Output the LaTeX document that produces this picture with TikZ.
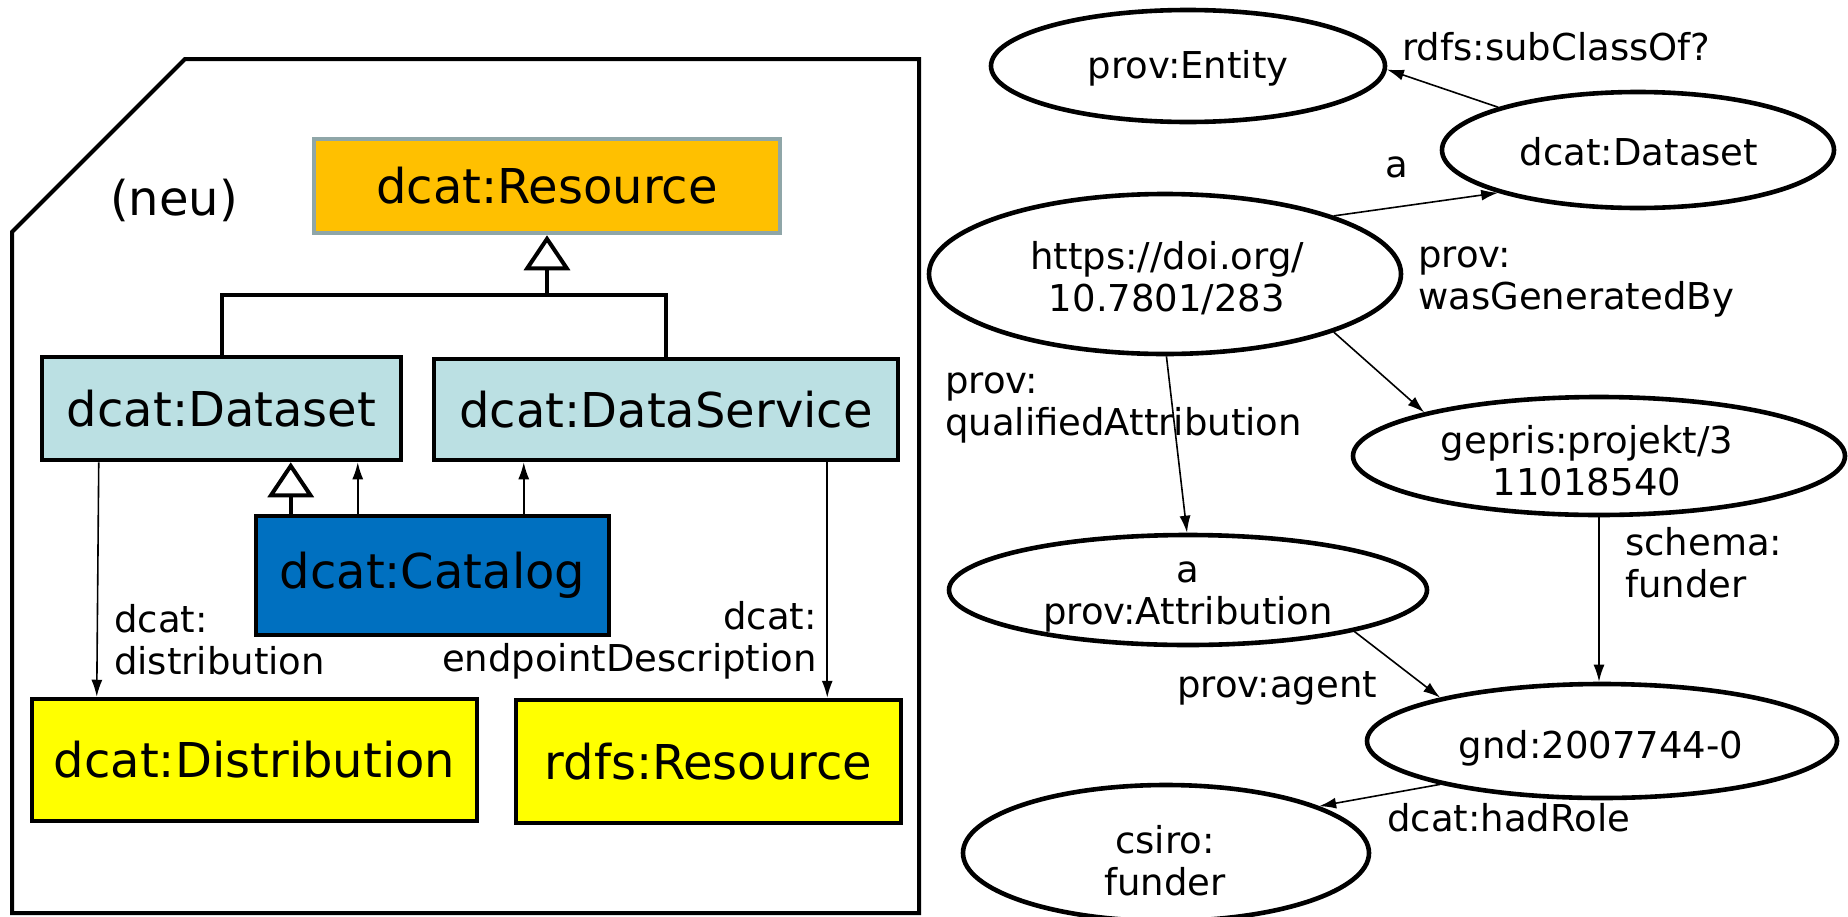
\documentclass[tikz,border=0pt]{standalone}
\usepackage{fontspec}
\setmainfont{DejaVu Sans}
\usetikzlibrary{arrows.meta,shapes.geometric}
\definecolor{resfill}{HTML}{FFC000}
\definecolor{resline}{HTML}{8FA6A8}
\definecolor{lblue}{HTML}{BBE0E3}
\definecolor{catblue}{HTML}{0070C0}
\definecolor{yel}{HTML}{FFFF00}
\begin{document}
\begin{tikzpicture}[x=1pt,y=-1pt,
 box/.style={draw=black,line width=4.5pt,rectangle,inner sep=0pt,font=\fontsize{48}{56}\selectfont},
 ell/.style={draw=black,line width=4.6pt,ellipse,inner sep=0pt},
 txt/.style={inner sep=0pt,font=\fontsize{37}{42}\selectfont,align=center},
 lbl/.style={inner sep=0pt,font=\fontsize{37}{42}\selectfont,align=left,anchor=west},
 rel/.style={line width=1.6pt,-{Latex[length=17pt,width=11pt]}},
 gen/.style={line width=4pt,-{Triangle[open,length=35pt,width=46pt]}},
 tree/.style={line width=4pt}]
\useasboundingbox (0,0) rectangle (1848,916);

% frame
\draw[line width=4pt] (12,232) -- (185,59) -- (919,59) -- (919,913) -- (12,913) -- cycle;
\node[inner sep=0pt,font=\fontsize{48}{56}\selectfont] (neu) at (174,200) {(neu)};

% boxes
\node[box,fill=resfill,draw=resline,minimum width=466pt,minimum height=94pt] (res) at (547,186) {dcat:Resource};
\node[box,fill=lblue,minimum width=359pt,minimum height=103pt] (ds) at (221.5,408.5) {dcat:Dataset};
\node[box,fill=lblue,minimum width=464pt,minimum height=101pt] (dsv) at (666,409.5) {dcat:DataService};
\node[box,fill=catblue,minimum width=353pt,minimum height=119pt] (cat) at (432.5,575.5) {dcat:Catalog};
\node[box,fill=yel,minimum width=445pt,minimum height=122pt] (dist) at (254.5,760) {dcat:Distribution};
\node[box,fill=yel,minimum width=385pt,minimum height=123pt] (rres) at (708.5,761.5) {rdfs:Resource};

% generalisation tree
\coordinate (j) at (547,295);
\draw[tree] (ds.north) |- (j) -| (dsv.north);
\draw[gen] (j) -- (res.south);
\coordinate (c1) at ([xshift=37pt]cat.north west);
\coordinate (c2) at ([xshift=104pt]cat.north west);
\coordinate (c3) at ([xshift=270pt]cat.north west);
\draw[gen] (c1) -- (c1 |- ds.south);
\draw[rel] (c2) -- (c2 |- ds.south);
\draw[rel] (c3) -- (c3 |- dsv.south);
\coordinate (d1) at ([xshift=59pt]ds.south west);
\coordinate (d2) at ([xshift=67pt]dist.north west);
\draw[rel] (d1) -- (d2);
\coordinate (e1) at ([xshift=-73pt]dsv.south east);
\draw[rel] (e1) -- (e1 |- rres.north);
\node[lbl] (l1) at (114,640) {dcat:\\distribution};
\node[lbl,anchor=east,align=right] (l2) at (817,640) {dcat:\\endpointDescription};

% right graph
\node[ell,minimum width=394pt,minimum height=112pt] (ent) at (1188,66) {};
\node[ell,minimum width=392pt,minimum height=116pt] (dds) at (1638,150) {};
\node[ell,minimum width=472pt,minimum height=160pt] (doi) at (1165,274) {};
\node[ell,minimum width=492pt,minimum height=118pt] (gep) at (1599,456) {};
\node[ell,minimum width=478pt,minimum height=110pt] (att) at (1188,590) {};
\node[ell,minimum width=470pt,minimum height=114pt] (gnd) at (1602,741) {};
\node[ell,minimum width=406pt,minimum height=136pt] (csi) at (1166,853) {};

\node[txt] (entT) at (1188,68) {prov:Entity};
\node[txt] (ddsT) at (1639,152) {dcat:Dataset};
\node[txt] (doiT) at (1167,278) {https://doi.org/\\10.7801/283};
\node[txt] (gepT) at (1587,461) {gepris:projekt/3\\11018540};
\node[txt] (attT) at (1188,597) {a\\prov:Attribution};
\node[txt] (gndT) at (1601,748) {gnd:2007744-0};
\node[txt] (csiT) at (1165,861) {csiro:\\funder};

\node[lbl] (lsub) at (1402,47) {rdfs:subClassOf?};
\node[txt] (la) at (1397,167) {a};
\node[lbl] (lgen) at (1418,282) {prov:\\wasGeneratedBy};
\node[lbl] (lqa) at (945,408) {prov:\\qualifiedAttribution};
\node[lbl] (lsch) at (1625,563) {schema:\\funder};
\node[lbl] (lag) at (1177,688) {prov:agent};
\node[lbl] (lrole) at (1387,818) {dcat:hadRole};

\draw[rel] (dds.163) -- (ent.-1);
\draw[rel] (doi.19) -- (dds.-163);
\draw[rel] (doi.-19) -- (gep.166);
\draw[rel] (doi.-89) -- (att.91);
\draw[rel] (gep.south) -- (gep.south |- gnd.north);
\draw[rel] (att.-14) -- (gnd.165);
\draw[rel] (gnd.-165) -- (csi.17);
\end{tikzpicture}
\end{document}
